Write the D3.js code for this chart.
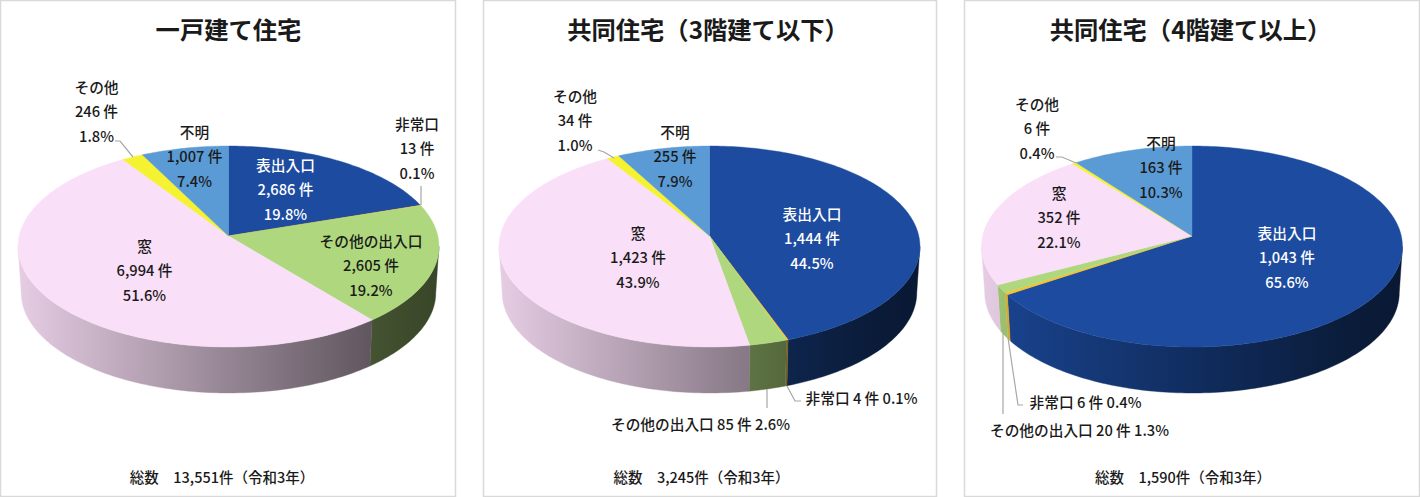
<!DOCTYPE html>
<html lang="ja">
<head>
<meta charset="UTF-8">
<title>出火箇所 住宅種別</title>
<style>
  body { margin: 0; background: #fff; }
  svg { display: block; }
  text { font-family: "Noto Sans CJK JP", sans-serif; fill: #1a1a1a; }
  .title { font-size: 24.3px; font-weight: 700; }
  .label { font-size: 14.7px; font-weight: 500; text-anchor: middle; dominant-baseline: central; }
  .foot { font-size: 14.5px; font-weight: 500; text-anchor: middle; dominant-baseline: central; }
</style>
</head>
<body>
<svg id="chart" width="1420" height="497"></svg>
<script src="https://d3js.org/d3.v7.min.js"></script>
<script>
const categories = ["表出入口", "非常口", "その他の出入口", "窓", "その他", "不明"];
const detachedValues = [2686, 13, 2605, 6994, 246, 1007];
const lowRiseValues = [1444, 4, 85, 1423, 34, 255];
const highRiseValues = [1043, 6, 20, 352, 6, 163];
const titles = ["一戸建て住宅", "共同住宅（3階建て以下）", "共同住宅（4階建て以上）"];
const footers = ["総数　13,551件（令和3年）", "総数　3,245件（令和3年）", "総数　1,590件（令和3年）"];
const colors = ["#1c4b9f", "#f5c231", "#afd87e", "#fadff8", "#f5f232", "#5b9bd5"];

// layout of each panel, label order follows categories: [x, y of first line]
const panels = [
  { values: detachedValues, x0: 0, x1: 455, cx: 228.5, titleX: 228.5, footX: 222,
    labels: [[285.5, 164], [417, 123], [371, 240], [144.5, 245], [96.5, 86], [194.5, 131]],
    leaders: [[[421, 186], [421, 205]], null, null, [[115, 141], [120, 141], [133, 157]]] },
  { values: lowRiseValues, x0: 483, x1: 936, cx: 709.5, titleX: 708, footX: 701.5,
    labels: [[812, 213], null, null, [638, 232], [575, 95], [675, 131]],
    inline: { 1: [861.5, 397], 2: [700.5, 423] },
    leaders: [[[787, 386], [795, 401], [801, 401]], [[767, 389], [767, 408]], null, [[598, 150], [604, 152], [614, 158]]] },
  { values: highRiseValues, x0: 964, x1: 1419, cx: 1192, titleX: 1190.5, footX: 1183,
    labels: [[1287, 232], null, null, [1059, 192], [1037, 103], [1161, 142]],
    inline: { 1: [1085.5, 401], 2: [1079.5, 429] },
    leaders: [[[1008, 338], [1018, 405], [1023, 405]], [[1003, 333], [1003, 414]], null, [[1056, 157], [1062, 157], [1076, 163]]] }
];

const apexY = 236, rA = 209.3, rB = 99.4, persp = 0.1045, depth = 46, wallScale = 0.985;
const wallFrom = Math.acos(-persp), wallTo = 2 * Math.PI - wallFrom;

const svg = d3.select("#chart");
const defs = svg.append("defs");
const fmtNum = d3.format(",");
const fmtPct = d3.format(".1%");

// point on the rim of the pie, the disc is seen in perspective
function rim(a) {
  const u = Math.sin(a), v = -Math.cos(a), w = 1 - persp * v;
  return [rA * u / w, rB * v / w];
}

function sampleAngles(a0, a1) {
  const n = Math.max(2, Math.ceil((a1 - a0) / 0.02));
  return d3.range(n + 1).map(i => a0 + (a1 - a0) * i / n);
}

const line = d3.line();

panels.forEach((p, pi) => {
  const g = svg.append("g");
  g.append("rect")
    .attr("x", p.x0 + 0.5).attr("y", 0.5)
    .attr("width", p.x1 - p.x0).attr("height", 496)
    .attr("fill", "#fff").attr("stroke", "#d9d9d9").attr("stroke-width", 1.5);

  g.append("text").attr("class", "title")
    .attr("x", p.titleX).attr("y", 28.5)
    .attr("text-anchor", "middle").attr("dominant-baseline", "central")
    .text(titles[pi]);

  const total = d3.sum(p.values);
  const arcs = d3.pie().sort(null)(p.values);
  const toTop = a => { const r = rim(a); return [p.cx + r[0], apexY + r[1]]; };
  const toBottom = a => { const r = rim(a); return [p.cx + r[0] * wallScale, apexY + depth + r[1]]; };

  // walls first, the top face goes over them
  arcs.forEach((d, i) => {
    const a0 = Math.max(d.startAngle, wallFrom), a1 = Math.min(d.endAngle, wallTo);
    if (a1 <= a0) return;
    const id = `wall-${pi}-${i}`;
    const grad = defs.append("linearGradient").attr("id", id)
      .attr("gradientUnits", "userSpaceOnUse")
      .attr("x1", p.cx - 211).attr("x2", p.cx + 211).attr("y1", 0).attr("y2", 0);
    [[0, 0.92], [0.65, 0.5], [0.85, 0.38], [1, 0.32]].forEach(s => {
      const c = d3.rgb(colors[i]);
      grad.append("stop").attr("offset", s[0])
        .attr("stop-color", d3.rgb(c.r * s[1], c.g * s[1], c.b * s[1]).formatHex());
    });
    const as = sampleAngles(a0, a1);
    const pts = as.map(toTop).concat(as.slice().reverse().map(toBottom));
    g.append("path").attr("d", line(pts) + "Z")
      .attr("fill", `url(#${id})`).attr("stroke", `url(#${id})`).attr("stroke-width", 0.4);
  });

  arcs.forEach((d, i) => {
    const pts = [[p.cx, apexY]].concat(sampleAngles(d.startAngle, d.endAngle).map(toTop));
    g.append("path").attr("d", line(pts) + "Z")
      .attr("fill", colors[i]).attr("stroke", colors[i]).attr("stroke-width", 0.4);
  });

  p.leaders.forEach(l => {
    if (!l) return;
    g.append("path").attr("d", line(l)).attr("fill", "none")
      .attr("stroke", "#a6a6a6").attr("stroke-width", 1.2);
  });

  p.values.forEach((v, i) => {
    const pct = fmtPct(v / total);
    if (p.inline && p.inline[i]) {
      g.append("text").attr("class", "label")
        .attr("x", p.inline[i][0]).attr("y", p.inline[i][1])
        .text(`${categories[i]} ${fmtNum(v)} 件 ${pct}`);
      return;
    }
    const pos = p.labels[i];
    [categories[i], `${fmtNum(v)} 件`, pct].forEach((t, k) => {
      g.append("text").attr("class", "label")
        .attr("x", pos[0]).attr("y", pos[1] + k * 24.7)
        .style("fill", i === 0 ? "#fff" : null)
        .text(t);
    });
  });

  g.append("text").attr("class", "foot")
    .attr("x", p.footX).attr("y", 476).text(footers[pi]);
});
</script>
</body>
</html>
